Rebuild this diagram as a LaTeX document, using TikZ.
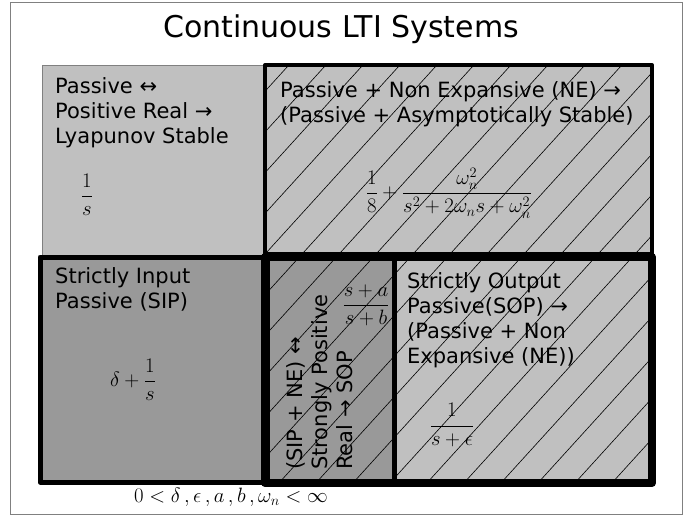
\documentclass[tikz,border=0pt]{standalone}
\usepackage{fontspec}
\setmainfont{DejaVu Sans}
\definecolor{lightg}{HTML}{C0C0C0}
\definecolor{darkg}{HTML}{999999}
\definecolor{framec}{HTML}{808080}
\tikzset{
  txt/.style={font=\fontsize{21}{25}\selectfont, align=left, inner sep=0pt, text=black},
  mth/.style={font=\fontsize{20}{24}\selectfont, inner sep=0pt},
  hatchline/.style={line width=0.6pt, black},
}
\newcommand{\hatchrect}[4]{%
  \begin{scope}
    \clip (#1,#2) rectangle (#3,#4);
    \foreach \k in {0,...,40} {
      \draw[hatchline] ({15+37*\k},0) -- ({15+37*\k-500},550);
    }
  \end{scope}}
\begin{document}
\begin{tikzpicture}[x=1pt,y=-1pt]
\useasboundingbox (0,0) rectangle (699,515);
% outer frame
\draw[framec, line width=1pt] (10,2) rectangle (682,514);
\node[font=\fontsize{30}{36}\selectfont, anchor=base, inner sep=0pt] (title) at (341,37) {Continuous LTI Systems};
% top-left box
\fill[lightg] (42,65) rectangle (265,256);
\draw[framec, line width=1pt] (42,65) rectangle (265,256);
% top-right box
\fill[lightg] (265,65) rectangle (652,254);
\hatchrect{265}{65}{652}{254}
\draw[line width=4pt, line join=round] (265,65) rectangle (652,254);
% bottom-left box
\fill[darkg] (40,257) rectangle (265,482);
\draw[line width=5pt, line join=round] (40,257) rectangle (265,482);
% middle box
\fill[darkg] (265,257) rectangle (394,483);
\hatchrect{265}{257}{394}{483}
% bottom-right box
\fill[lightg] (394,257) rectangle (652,483);
\hatchrect{394}{257}{652}{483}
\draw[line width=5pt] (394,257) -- (394,483);
\draw[line width=7pt] (266,257) -- (266,483);
\draw[line width=8pt, line join=round] (265,257) rectangle (652,483);
% texts (anchor at baseline of last line)
\node[txt, anchor=base west] (passive) at (55,143) {Passive ↔\\Positive Real →\\Lyapunov Stable};
\node[mth] (f1) at (87,195) {$\displaystyle\frac{1}{s}$};
\node[txt, anchor=base west] (ne) at (280,122) {Passive + Non Expansive (NE) →\\(Passive + Asymptotically Stable)};
\node[mth] (f2) at (449,193) {$\displaystyle\frac{1}{8}+\frac{\omega_n^2}{s^2+2\omega_n s+\omega_n^2}$};
\node[txt, anchor=base west] (sip) at (55,308) {Strictly Input\\Passive (SIP)};
\node[mth] (f3) at (133,380) {$\displaystyle\delta+\frac{1}{s}$};
\node[txt, anchor=base west, rotate=90] (spr) at (352,470) {(SIP + NE) ↔\\Strongly Positive\\Real → SOP};
\node[mth] (f4) at (366,305) {$\displaystyle\frac{s+a}{s+b}$};
\node[txt, anchor=base west] (sop) at (407,363) {Strictly Output\\Passive(SOP) →\\(Passive + Non\\Expansive (NE))};
\node[mth] (f5) at (452,425) {$\displaystyle\frac{1}{s+\epsilon}$};
\node[mth, anchor=base] (cond) at (231,502) {$0<\delta\,,\epsilon\,,a\,,b\,,\omega_n<\infty$};
\end{tikzpicture}
\end{document}
